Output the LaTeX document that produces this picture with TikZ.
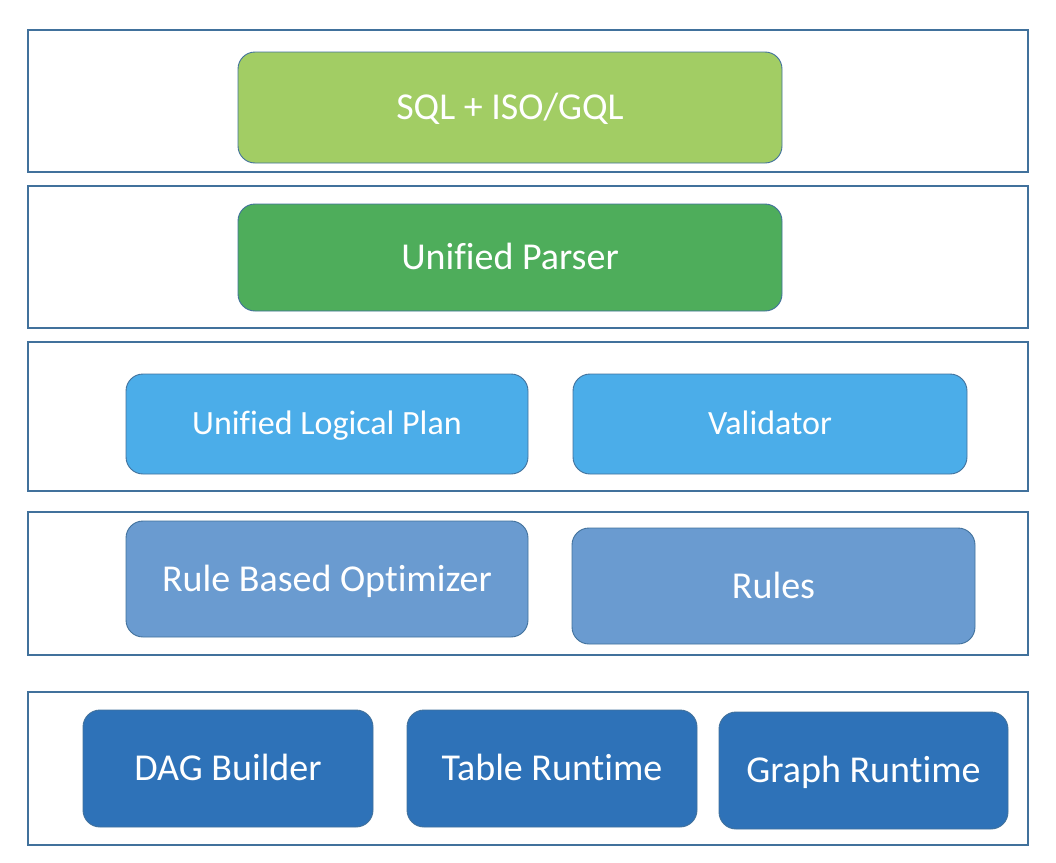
\documentclass[tikz,border=0pt]{standalone}
\usepackage{fontspec}
\setmainfont{Carlito}[Ligatures=NoCommon]
\usepackage{xcolor}
\usepackage{tikz}
\usetikzlibrary{positioning}
\definecolor{stLine}{RGB}{65, 113, 156}
\definecolor{stLime}{RGB}{162, 205, 100}
\definecolor{stGreen}{RGB}{78, 173, 91}
\definecolor{stSky}{RGB}{75, 173, 233}
\definecolor{stSteel}{RGB}{106, 155, 208}
\definecolor{stNavy}{RGB}{46, 114, 184}
\tikzset{
    layer/.style={
        draw=stLine,
        line width=1.4pt
    },
    block/.style={
        rectangle,
        rounded corners=17pt,
        draw=stLine,
        line width=0.9pt,
        text=white,
        align=center,
        inner sep=0pt,
        text height=24.5pt,
        text depth=0pt,
        font=\fontsize{38}{44}\selectfont
    },
    smallblock/.style={
        block,
        text height=21.9pt,
        font=\fontsize{34}{40}\selectfont
    }
}
\begin{document}
\begin{tikzpicture}[x=1pt, y=-1pt]
    \useasboundingbox (0,0) rectangle (1056,862);

    % Layers
    \draw[layer] (28,30) rectangle (1028,172);
    \draw[layer] (28,186) rectangle (1028,328);
    \draw[layer] (28,342) rectangle (1028,491);
    \draw[layer] (28,512) rectangle (1028,655);
    \draw[layer] (28,692) rectangle (1028,845);

    % Language and parsing
    \node[block, fill=stLime, minimum width=544pt, minimum height=111pt] (query) at (510,107.5) {SQL + ISO/GQL};
    \node[block, fill=stGreen, minimum width=544pt, minimum height=107pt] (parser) at (510,257.5) {Unified Parser};

    % Planning
    \node[smallblock, fill=stSky, minimum width=402pt, minimum height=100pt] (plan) at (327,424) {Unified Logical Plan};
    \node[smallblock, fill=stSky, minimum width=394pt, minimum height=100pt] (validator) at (770,424) {Validator};

    % Optimizing
    \node[block, fill=stSteel, minimum width=402pt, minimum height=116pt] (optimizer) at (327,579) {Rule Based Optimizer};
    \node[block, fill=stSteel, minimum width=403pt, minimum height=116pt] (rules) at (773.5,586) {Rules};

    % Runtime
    \node[block, fill=stNavy, minimum width=290pt, minimum height=117pt] (dag) at (228,768.5) {DAG Builder};
    \node[block, fill=stNavy, minimum width=290pt, minimum height=117pt] (table) at (552,768.5) {Table Runtime};
    \node[block, fill=stNavy, minimum width=289pt, minimum height=117pt] (graph) at (863.5,770.5) {Graph Runtime};

\end{tikzpicture}
\end{document}
